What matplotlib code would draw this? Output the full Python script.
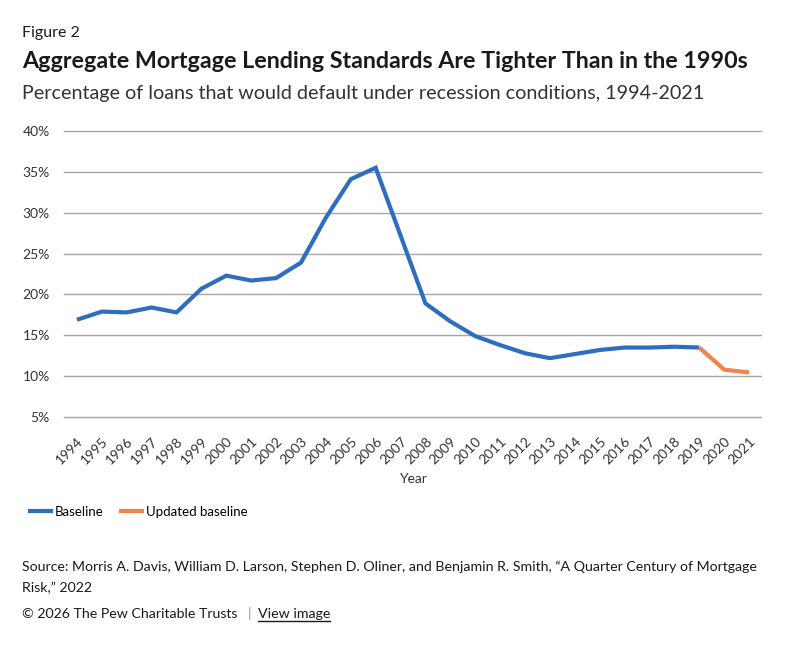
#!/usr/bin/env python3
"""Pew figure 2: share of loans that would default under recession conditions."""

import matplotlib.pyplot as plt
from matplotlib.lines import Line2D

plt.rcParams["font.family"] = ["Lato", "DejaVu Sans"]

years = [str(y) for y in range(1994, 2022)]
baseline = [16.9, 17.9, 17.8, 18.4, 17.8, 20.7, 22.3, 21.7, 22.0, 23.9,
            29.4, 34.1, 35.5, 27.2, 18.9, 16.7, 14.9, 13.8, 12.8, 12.2,
            12.7, 13.2, 13.5, 13.5, 13.6, 13.5]
updated_years = ["2019", "2020", "2021"]
updated = [13.5, 10.8, 10.45]
y_ticks = [5, 10, 15, 20, 25, 30, 35, 40]

BLUE = "#2F6DBF"
ORANGE = "#F0834A"
TEXT = "#1a1a1a"


def main() -> None:
    fig = plt.figure(figsize=(8.03, 6.56), dpi=100)
    W, H = 803, 656
    ax = fig.add_axes([64.5 / W, 1 - 417 / H, (761.5 - 64.5) / W, (417 - 131) / H])

    x_all = list(range(len(years)))
    ax.plot(x_all[:len(baseline)], baseline, color=BLUE, lw=3.0,
            solid_capstyle="butt", solid_joinstyle="miter", zorder=3)
    x_upd = [years.index(y) for y in updated_years]
    ax.plot(x_upd, updated, color=ORANGE, lw=3.0,
            solid_capstyle="butt", solid_joinstyle="miter", zorder=3)

    ax.set_xlim(-0.5, len(years) - 0.5)
    ax.set_ylim(5, 40)
    ax.set_yticks(y_ticks)
    ax.set_yticklabels([f"{v}%" for v in y_ticks])
    ax.set_xticks(x_all)
    ax.set_xticklabels(years, rotation=45, ha="right", va="top",
                       rotation_mode="anchor")
    ax.tick_params(axis="both", length=0, labelsize=10, colors="#333333")
    ax.tick_params(axis="y", pad=10.5)
    ax.tick_params(axis="x", pad=13)
    ax.grid(axis="y", color="#a6a6a6", lw=1.0)
    for gl in ax.get_ygridlines():
        gl.set_clip_on(False)
    ax.set_axisbelow(True)
    for s in ax.spines.values():
        s.set_visible(False)
    ax.set_xlabel("Year", fontsize=10, color="#333333", labelpad=5)

    # headings
    fig.text(22 / W, 1 - 33 / H, "Figure 2", fontsize=11.5, color=TEXT, va="center")
    fig.text(22 / W, 1 - 62 / H,
             "Aggregate Mortgage Lending Standards Are Tighter Than in the 1990s",
             fontsize=16.75, fontweight="bold", color=TEXT, va="center")
    fig.text(22 / W, 1 - 93 / H,
             "Percentage of loans that would default under recession conditions, 1994-2021",
             fontsize=14.2, color="#333333", va="center")

    # legend
    handles = [Line2D([], [], color=BLUE, lw=3), Line2D([], [], color=ORANGE, lw=3)]
    fig.legend(handles, ["Baseline", "Updated baseline"], loc="center left",
               bbox_to_anchor=(30 / W, 1 - 512 / H), ncol=2, frameon=False,
               fontsize=9.5, handlelength=1.6, handletextpad=0.3,
               columnspacing=1.3, borderaxespad=0, borderpad=0)

    # footer
    fig.text(22 / W, 1 - 567 / H,
             "Source: Morris A. Davis, William D. Larson, Stephen D. Oliner, and Benjamin R. Smith, \u201cA Quarter Century of Mortgage",
             fontsize=10.2, color=TEXT, va="center")
    fig.text(22 / W, 1 - 588 / H, "Risk,\u201d 2022", fontsize=10.2, color=TEXT, va="center")
    fig.text(22 / W, 1 - 614 / H, "\u00a9 2026 The Pew Charitable Trusts", fontsize=10.2,
             color=TEXT, va="center")
    fig.text(248 / W, 1 - 614 / H, "|", fontsize=10.2, color="#999999", va="center")
    link = fig.text(258 / W, 1 - 614 / H, "View image", fontsize=10.2, color=TEXT,
                    va="center")
    fig.canvas.draw()
    bb = link.get_window_extent()
    fig.add_artist(Line2D([bb.x0 / W, bb.x1 / W], [(bb.y0 - 1) / H, (bb.y0 - 1) / H],
                          color=TEXT, lw=1.0, transform=fig.transFigure))

    fig.savefig("out.png", dpi=100)
    plt.close(fig)


if __name__ == "__main__":
    main()
